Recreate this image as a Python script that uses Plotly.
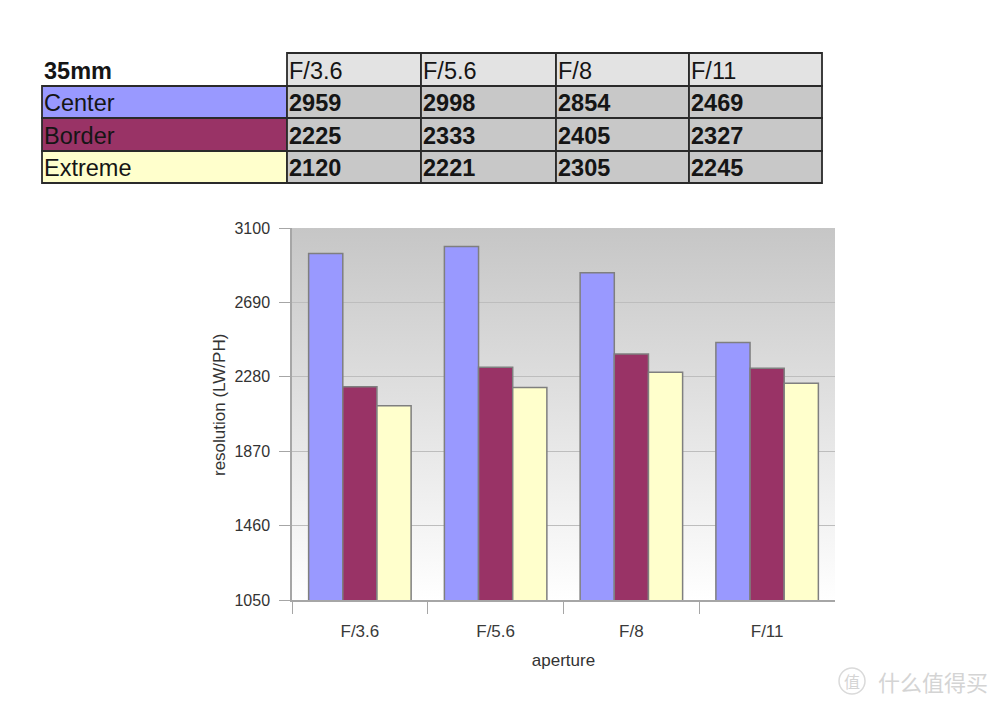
import base64

import plotly.graph_objects as go

# data
apertures = ["F/3.6", "F/5.6", "F/8", "F/11"]
center = [2959, 2998, 2854, 2469]
border = [2225, 2333, 2405, 2327]
extreme = [2120, 2221, 2305, 2245]
series_names = ["Center", "Border", "Extreme"]
y_ticks = [1050, 1460, 1870, 2280, 2690, 3100]

colors = ["#9999ff", "#993366", "#ffffcc"]
W, H = 1005, 707
PAGE_OFF = 8  # default body margin of the html page


def px(x):
    return (x - PAGE_OFF) / W


def py(y):
    return 1 - (y - PAGE_OFF) / H


fig = go.Figure()
for name, vals, col in zip(series_names, [center, border, extreme], colors):
    fig.add_trace(go.Bar(
        x=apertures, y=vals, name=name,
        marker=dict(color=col, line=dict(color="#7f7f7f", width=1.5)),
    ))

# vertical gray gradient behind the plot area
svg = ('<svg xmlns="http://www.w3.org/2000/svg" width="100" height="100" preserveAspectRatio="none">'
       '<defs><linearGradient id="g" x1="0" y1="0" x2="0" y2="1">'
       '<stop offset="0" stop-color="#c6c6c6"/><stop offset="1" stop-color="#ffffff"/>'
       '</linearGradient></defs><rect width="100" height="100" fill="url(#g)"/></svg>')
bg = "data:image/svg+xml;base64," + base64.b64encode(svg.encode()).decode()

# table layout (pixels)
col_edges = [42, 287, 421, 556, 689, 822]
row_edges = [53, 86, 118, 151, 183]
shapes = []
annotations = []
table_font = dict(family="Arial, Liberation Sans", size=23.5, color="#151515")
rows = [["35mm"] + apertures]
for name, vals in zip(series_names, [center, border, extreme]):
    rows.append([name] + [str(v) for v in vals])

for r, row in enumerate(rows):
    for c, txt in enumerate(row):
        x0, x1 = col_edges[c], col_edges[c + 1]
        y0, y1 = row_edges[r], row_edges[r + 1]
        if r == 0 and c == 0:
            fill = None
        elif r == 0:
            fill = "#e3e3e3"
        elif c == 0:
            fill = colors[r - 1]
        else:
            fill = "#c8c8c8"
        if fill:
            shapes.append(dict(type="rect", xref="paper", yref="paper",
                               x0=px(x0), x1=px(x1), y0=py(y1), y1=py(y0),
                               fillcolor=fill, line=dict(color="#2a2a2a", width=1.8), layer="above"))
        bold = (r == 0 and c == 0) or (r > 0 and c > 0)
        annotations.append(dict(
            xref="paper", yref="paper", x=px(x0), y=py((y0 + y1) / 2 + 1),
            xanchor="left", yanchor="middle", showarrow=False,
            text=f"<b>{txt}</b>" if bold else txt, font=table_font,
        ))

# y axis title
annotations.append(dict(xref="paper", yref="paper", x=px(220), y=py(405), xanchor="center",
                        yanchor="middle", showarrow=False, textangle=-90,
                        text="resolution (LW/PH)", font=dict(size=17, color="#333")))

# watermark
annotations.append(dict(xref="paper", yref="paper", x=px(876), y=py(681), xanchor="left",
                        yanchor="middle", showarrow=False, text="什么值得买",
                        font=dict(family="Noto Sans CJK SC", size=22, color="#d4d4d4")))
annotations.append(dict(xref="paper", yref="paper", x=px(852), y=py(681), xanchor="center",
                        yanchor="middle", showarrow=False, text="值",
                        font=dict(family="Noto Sans CJK SC", size=16, color="#d4d4d4")))
shapes.append(dict(type="circle", xref="paper", yref="paper",
                   x0=px(839), x1=px(865), y0=py(694), y1=py(668),
                   line=dict(color="#dadada", width=1.5)))

fig.update_layout(
    width=W, height=H,
    margin=dict(l=0, r=0, t=0, b=0),
    paper_bgcolor="white", plot_bgcolor="rgba(0,0,0,0)",
    showlegend=False,
    barmode="group", bargap=0.245, bargroupgap=0,
    font=dict(family="Arial, Liberation Sans", size=16, color="#333"),
    xaxis=dict(domain=[px(292), px(835)], automargin=False,
               showline=True, linecolor="#a6a6a6", linewidth=1.5,
               ticks="outside", tickson="boundaries", ticklen=12, tickcolor="#a6a6a6",
               ticklabelstandoff=15,
               tickfont=dict(size=17, color="#3a3a3a"), showgrid=False,
               title=dict(text="aperture", font=dict(size=17, color="#333"), standoff=14)),
    yaxis=dict(domain=[py(600), py(228)], automargin=False,
               range=[1050, 3100], tickvals=y_ticks,
               showline=True, linecolor="#a6a6a6", linewidth=1.5,
               ticks="outside", ticklen=11, tickcolor="#a6a6a6",
               ticklabelstandoff=6,
               showgrid=True, gridcolor="#bdbdbd", gridwidth=1.2, zeroline=False,
               tickfont=dict(size=16, color="#333")),
    images=[dict(source=bg, xref="paper", yref="paper", x=px(292), y=py(228),
                 sizex=px(835) - px(292), sizey=py(228) - py(600),
                 sizing="stretch", layer="below", xanchor="left", yanchor="top")],
    shapes=shapes,
    annotations=annotations,
)

fig.write_html("out.html")
